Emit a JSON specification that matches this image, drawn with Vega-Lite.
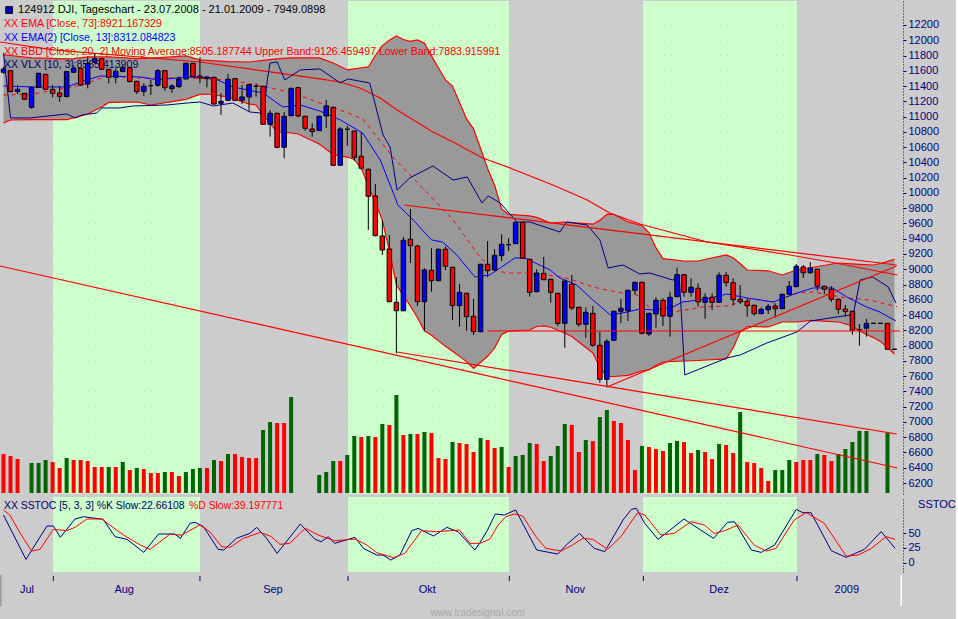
{
"$schema":"https://vega.github.io/schema/vega-lite/v6.json",
"background":"#CCCCCC",
"autosize":{"type":"pad"},
"padding":{"left":0,"top":1,"right":0,"bottom":0},
"spacing":3,
"config":{"view":{"stroke":null},"text":{"font":"Liberation Sans","fontSize":11},"concat":{"spacing":3}},
"datasets":{
"bands":[{"start":7.06,"end":28.01},{"start":49.1,"end":72.05},{"start":91.15,"end":113.1}],
"priceGrid":[
{"start":7.06,"end":28.01,"level":[6200,6400,6600,6800,7000,7200,7400,7600,7800,8000,8200,8400,8600,8800,9000,9200,9400,9600,9800,10000,10200,10400,10600,10800,11000,11200,11400,11600,11800,12000,12200]},
{"start":49.1,"end":72.05,"level":[6200,6400,6600,6800,7000,7200,7400,7600,7800,8000,8200,8400,8600,8800,9000,9200,9400,9600,9800,10000,10200,10400,10600,10800,11000,11200,11400,11600,11800,12000,12200]},
{"start":91.15,"end":113.1,"level":[6200,6400,6600,6800,7000,7200,7400,7600,7800,8000,8200,8400,8600,8800,9000,9200,9400,9600,9800,10000,10200,10400,10600,10800,11000,11200,11400,11600,11800,12000,12200]}],
"stocGrid":[
{"start":7.06,"end":28.01,"level":[0,25,50,75,100]},
{"start":49.1,"end":72.05,"level":[0,25,50,75,100]},
{"start":91.15,"end":113.1,"level":[0,25,50,75,100]}],
"volume":[
{"bar":0,"volume":39,"side":"down"},{"bar":1,"volume":37,"side":"down"},{"bar":2,"volume":34,"side":"down"},{"bar":4,"volume":30,"side":"up"},{"bar":5,"volume":30,"side":"up"},{"bar":6,"volume":33,"side":"up"},{"bar":7,"volume":31,"side":"down"},{"bar":8,"volume":25,"side":"down"},{"bar":9,"volume":35,"side":"up"},{"bar":10,"volume":33,"side":"down"},{"bar":11,"volume":33,"side":"down"},{"bar":12,"volume":32,"side":"down"},{"bar":13,"volume":26,"side":"down"},{"bar":14,"volume":26,"side":"down"},{"bar":15,"volume":26,"side":"up"},{"bar":16,"volume":26,"side":"down"},{"bar":17,"volume":31,"side":"up"},{"bar":18,"volume":23,"side":"down"},{"bar":19,"volume":25,"side":"up"},{"bar":20,"volume":24,"side":"down"},{"bar":21,"volume":20,"side":"down"},{"bar":22,"volume":20,"side":"down"},{"bar":23,"volume":21,"side":"up"},{"bar":24,"volume":21,"side":"down"},{"bar":25,"volume":17,"side":"down"},{"bar":26,"volume":21,"side":"up"},{"bar":27,"volume":24,"side":"up"},{"bar":28,"volume":25,"side":"up"},{"bar":29,"volume":25,"side":"down"},{"bar":30,"volume":33,"side":"up"},{"bar":31,"volume":32,"side":"down"},{"bar":32,"volume":39,"side":"up"},{"bar":33,"volume":39,"side":"down"},{"bar":34,"volume":36,"side":"down"},{"bar":35,"volume":35,"side":"down"},{"bar":36,"volume":35,"side":"down"},{"bar":37,"volume":63,"side":"up"},{"bar":38,"volume":71,"side":"up"},{"bar":39,"volume":70,"side":"down"},{"bar":40,"volume":70,"side":"down"},{"bar":41,"volume":96,"side":"up"},
{"bar":45,"volume":18,"side":"up"},{"bar":46,"volume":21,"side":"up"},{"bar":47,"volume":32,"side":"up"},{"bar":48,"volume":32,"side":"down"},{"bar":49,"volume":38,"side":"up"},{"bar":50,"volume":57,"side":"up"},{"bar":51,"volume":56,"side":"down"},{"bar":52,"volume":57,"side":"up"},{"bar":53,"volume":56,"side":"down"},{"bar":54,"volume":69,"side":"up"},{"bar":55,"volume":68,"side":"down"},{"bar":56,"volume":98,"side":"up"},{"bar":57,"volume":58,"side":"down"},{"bar":58,"volume":59,"side":"up"},{"bar":59,"volume":59,"side":"down"},{"bar":60,"volume":61,"side":"up"},{"bar":61,"volume":60,"side":"down"},{"bar":62,"volume":35,"side":"down"},{"bar":63,"volume":34,"side":"down"},{"bar":64,"volume":51,"side":"up"},{"bar":65,"volume":50,"side":"down"},{"bar":66,"volume":49,"side":"down"},{"bar":67,"volume":41,"side":"down"},{"bar":68,"volume":55,"side":"up"},{"bar":69,"volume":53,"side":"down"},{"bar":70,"volume":45,"side":"down"},{"bar":71,"volume":46,"side":"up"},{"bar":72,"volume":26,"side":"down"},{"bar":73,"volume":37,"side":"up"},{"bar":74,"volume":38,"side":"up"},{"bar":75,"volume":50,"side":"up"},{"bar":76,"volume":49,"side":"down"},{"bar":77,"volume":32,"side":"down"},{"bar":78,"volume":37,"side":"up"},{"bar":79,"volume":47,"side":"up"},{"bar":80,"volume":69,"side":"up"},{"bar":81,"volume":68,"side":"down"},{"bar":82,"volume":41,"side":"down"},{"bar":83,"volume":53,"side":"up"},{"bar":84,"volume":52,"side":"down"},{"bar":85,"volume":76,"side":"up"},{"bar":86,"volume":83,"side":"up"},{"bar":87,"volume":72,"side":"down"},{"bar":88,"volume":70,"side":"down"},{"bar":89,"volume":53,"side":"down"},{"bar":90,"volume":23,"side":"down"},{"bar":91,"volume":47,"side":"up"},{"bar":92,"volume":46,"side":"down"},{"bar":93,"volume":44,"side":"down"},{"bar":94,"volume":42,"side":"down"},{"bar":95,"volume":50,"side":"up"},{"bar":96,"volume":52,"side":"up"},{"bar":97,"volume":51,"side":"down"},{"bar":98,"volume":40,"side":"down"},{"bar":99,"volume":43,"side":"up"},{"bar":100,"volume":41,"side":"down"},{"bar":101,"volume":34,"side":"down"},{"bar":102,"volume":49,"side":"up"},{"bar":103,"volume":48,"side":"down"},{"bar":104,"volume":40,"side":"down"},{"bar":105,"volume":81,"side":"up"},{"bar":106,"volume":31,"side":"down"},{"bar":107,"volume":30,"side":"down"},{"bar":108,"volume":25,"side":"down"},{"bar":109,"volume":12,"side":"down"},{"bar":110,"volume":23,"side":"up"},{"bar":111,"volume":23,"side":"up"},{"bar":112,"volume":33,"side":"up"},{"bar":113,"volume":31,"side":"down"},{"bar":114,"volume":33,"side":"down"},{"bar":115,"volume":33,"side":"down"},{"bar":116,"volume":39,"side":"up"},{"bar":117,"volume":38,"side":"down"},{"bar":118,"volume":32,"side":"down"},{"bar":119,"volume":39,"side":"up"},{"bar":120,"volume":44,"side":"up"},{"bar":121,"volume":51,"side":"up"},{"bar":122,"volume":62,"side":"up"},{"bar":123,"volume":62,"side":"up"},{"bar":126,"volume":60,"side":"up"}],
"boll":[
{"bar":0,"upper":11807,"lower":10916},{"bar":1,"upper":11800,"lower":10955},{"bar":4,"upper":11768,"lower":10961},{"bar":9,"upper":11755,"lower":10961},{"bar":10,"upper":11760,"lower":10982},{"bar":12,"upper":11781,"lower":11034},{"bar":14,"upper":11781,"lower":11126},{"bar":15,"upper":11781,"lower":11185},{"bar":19,"upper":11760,"lower":11191},{"bar":21,"upper":11765,"lower":11152},{"bar":24,"upper":11783,"lower":11195},{"bar":26,"upper":11794,"lower":11225},{"bar":28,"upper":11742,"lower":11290},{"bar":29,"upper":11735,"lower":11296},{"bar":32,"upper":11720,"lower":11257},{"bar":35,"upper":11715,"lower":11165},{"bar":36,"upper":11725,"lower":11152},{"bar":37,"upper":11735,"lower":11021},{"bar":39,"upper":11755,"lower":10798},{"bar":41,"upper":11768,"lower":10785},{"bar":42,"upper":11768,"lower":10772},{"bar":45,"upper":11768,"lower":10641},{"bar":47,"upper":11702,"lower":10505},{"bar":49,"upper":11611,"lower":10470},{"bar":50,"upper":11625,"lower":10440},{"bar":51,"upper":11640,"lower":10320},{"bar":52,"upper":11650,"lower":10100},{"bar":53,"upper":11800,"lower":9870},{"bar":54,"upper":11930,"lower":9640},{"bar":55,"upper":12000,"lower":9236},{"bar":56,"upper":12056,"lower":8800},{"bar":57,"upper":12010,"lower":8650},{"bar":58,"upper":11985,"lower":8520},{"bar":59,"upper":12004,"lower":8365},{"bar":60,"upper":11960,"lower":8195},{"bar":61,"upper":11795,"lower":8135},{"bar":63,"upper":11480,"lower":7990},{"bar":64,"upper":11400,"lower":7925},{"bar":66,"upper":10970,"lower":7790},{"bar":67,"upper":10840,"lower":7700},{"bar":69,"upper":10320,"lower":7860},{"bar":70,"upper":10100,"lower":7970},{"bar":71,"upper":9790,"lower":8145},{"bar":72,"upper":9720,"lower":8190},{"bar":75,"upper":9700,"lower":8204},{"bar":76,"upper":9680,"lower":8250},{"bar":77,"upper":9640,"lower":8257},{"bar":78,"upper":9606,"lower":8240},{"bar":80,"upper":9619,"lower":8165},{"bar":81,"upper":9610,"lower":8120},{"bar":84,"upper":9590,"lower":7903},{"bar":85,"upper":9640,"lower":7720},{"bar":86,"upper":9720,"lower":7595},{"bar":87,"upper":9720,"lower":7595},{"bar":89,"upper":9620,"lower":7610},{"bar":91,"upper":9570,"lower":7670},{"bar":92,"upper":9480,"lower":7680},{"bar":93,"upper":9280,"lower":7740},{"bar":94,"upper":9140,"lower":7785},{"bar":97,"upper":9108,"lower":7798},{"bar":99,"upper":9108,"lower":7805},{"bar":103,"upper":9187,"lower":7825},{"bar":104,"upper":9150,"lower":7969},{"bar":105,"upper":9075,"lower":8178},{"bar":106,"upper":8990,"lower":8250},{"bar":109,"upper":8980,"lower":8244},{"bar":111,"upper":8925,"lower":8309},{"bar":113,"upper":8990,"lower":8309},{"bar":115,"upper":9020,"lower":8330},{"bar":119,"upper":9082,"lower":8309},{"bar":121,"upper":9070,"lower":8257},{"bar":122,"upper":9065,"lower":8190},{"bar":124,"upper":9056,"lower":8105},{"bar":125,"upper":9075,"lower":8055},{"bar":127,"upper":9130,"lower":7890}],
"ma":[{"bar":0,"price":11283},{"bar":4.2,"price":11296},{"bar":9,"price":11375},{"bar":11.2,"price":11414},{"bar":14.8,"price":11532},{"bar":19.5,"price":11506},{"bar":26.2,"price":11506},{"bar":32.3,"price":11480},{"bar":36.1,"price":11414},{"bar":41.3,"price":11309},{"bar":45.1,"price":11178},{"bar":48,"price":11086},{"bar":51.2,"price":10969},{"bar":55.5,"price":10471},{"bar":60.4,"price":10000},{"bar":64.1,"price":9646},{"bar":67.9,"price":9161},{"bar":69.8,"price":8990},{"bar":71.8,"price":8951},{"bar":74.6,"price":8951},{"bar":79.7,"price":8899},{"bar":84.6,"price":8755},{"bar":87.4,"price":8702},{"bar":90.3,"price":8663},{"bar":92.1,"price":8493},{"bar":95.4,"price":8440},{"bar":99.7,"price":8506},{"bar":103.1,"price":8519},{"bar":106.8,"price":8611},{"bar":109.7,"price":8571},{"bar":113.1,"price":8689},{"bar":115.4,"price":8702},{"bar":120.2,"price":8624},{"bar":123.5,"price":8597},{"bar":127.4,"price":8506}],
"ema13":[{"bar":0,"price":11401},{"bar":4.2,"price":11388},{"bar":9,"price":11388},{"bar":11.9,"price":11480},{"bar":13.8,"price":11532},{"bar":19.5,"price":11519},{"bar":21.9,"price":11480},{"bar":26.2,"price":11519},{"bar":29.9,"price":11506},{"bar":32.7,"price":11388},{"bar":37,"price":11309},{"bar":39.8,"price":11126},{"bar":42.3,"price":11152},{"bar":45.1,"price":11073},{"bar":48,"price":10956},{"bar":51.2,"price":10785},{"bar":53.7,"price":10431},{"bar":55.4,"price":10038},{"bar":56.2,"price":9842},{"bar":58.4,"price":9646},{"bar":61,"price":9384},{"bar":62.6,"price":9357},{"bar":64.6,"price":9187},{"bar":67.2,"price":8899},{"bar":69.3,"price":8925},{"bar":72.9,"price":9148},{"bar":74.3,"price":9148},{"bar":77.9,"price":8991},{"bar":79.3,"price":8886},{"bar":81.7,"price":8794},{"bar":84,"price":8598},{"bar":86.5,"price":8401},{"bar":88.9,"price":8440},{"bar":90.7,"price":8480},{"bar":92.6,"price":8467},{"bar":95.4,"price":8506},{"bar":96.8,"price":8571},{"bar":100.3,"price":8611},{"bar":103.1,"price":8676},{"bar":106,"price":8624},{"bar":109.7,"price":8571},{"bar":113.1,"price":8689},{"bar":115.4,"price":8755},{"bar":118.2,"price":8755},{"bar":120.2,"price":8637},{"bar":123,"price":8506},{"bar":124.9,"price":8440},{"bar":127.2,"price":8322}],
"ema73":[{"bar":-0.5,"price":11977},{"bar":7.1,"price":11873},{"bar":28,"price":11715},{"bar":45.1,"price":11493},{"bar":48,"price":11453},{"bar":50.8,"price":11375},{"bar":53.7,"price":11244},{"bar":56.1,"price":11087},{"bar":61.2,"price":10798},{"bar":64.1,"price":10667},{"bar":68.3,"price":10458},{"bar":72.2,"price":10327},{"bar":78.3,"price":10104},{"bar":83.2,"price":9907},{"bar":86.4,"price":9737},{"bar":90.7,"price":9593},{"bar":100.3,"price":9357},{"bar":112.1,"price":9187},{"bar":117.8,"price":9095},{"bar":127.4,"price":8925}],
"vlx":[{"bar":0,"price":11833},{"bar":1,"price":10982},{"bar":3.8,"price":10982},{"bar":9,"price":11034},{"bar":10.2,"price":10982},{"bar":11.2,"price":11021},{"bar":13.3,"price":11047},{"bar":14,"price":11113},{"bar":16.6,"price":11113},{"bar":18.5,"price":11139},{"bar":23.3,"price":11152},{"bar":26.2,"price":11178},{"bar":28,"price":11191},{"bar":29.9,"price":11139},{"bar":32.7,"price":11178},{"bar":35.1,"price":11060},{"bar":36.6,"price":11047},{"bar":37,"price":10955},{"bar":37.6,"price":11480},{"bar":38,"price":11702},{"bar":39,"price":11715},{"bar":40.1,"price":11480},{"bar":42.3,"price":11611},{"bar":45.1,"price":11624},{"bar":48,"price":11440},{"bar":49.1,"price":11493},{"bar":52.2,"price":11440},{"bar":54.1,"price":10759},{"bar":55.1,"price":10602},{"bar":56.1,"price":10038},{"bar":57.9,"price":10196},{"bar":61.2,"price":10353},{"bar":64.1,"price":10169},{"bar":66.1,"price":10209},{"bar":68.2,"price":9868},{"bar":69.1,"price":9960},{"bar":70.8,"price":9868},{"bar":73.2,"price":9619},{"bar":75,"price":9619},{"bar":79.3,"price":9488},{"bar":80.3,"price":9619},{"bar":83.2,"price":9580},{"bar":85,"price":9384},{"bar":86.2,"price":9017},{"bar":88.3,"price":9056},{"bar":90.7,"price":8938},{"bar":92.1,"price":8951},{"bar":95.4,"price":8859},{"bar":96.3,"price":8925},{"bar":96.7,"price":8296},{"bar":97.1,"price":7615},{"bar":103.1,"price":7838},{"bar":105,"price":7877},{"bar":108.8,"price":8034},{"bar":113.1,"price":8178},{"bar":115,"price":8322},{"bar":120.7,"price":8401},{"bar":121.1,"price":8401},{"bar":122.1,"price":8859},{"bar":123.9,"price":8899},{"bar":126.1,"price":8768},{"bar":127.2,"price":8558}],
"trend":[{"line":"a","bar":57.1,"price":9842},{"line":"a","bar":127.3,"price":9056},{"line":"b","bar":86,"price":7458},{"line":"b","bar":127.3,"price":9043},{"line":"c","bar":69,"price":8191},{"line":"c","bar":127.8,"price":8191},{"line":"d","bar":-0.5,"price":9043},{"line":"d","bar":127.4,"price":6397},{"line":"e","bar":56.1,"price":7916},{"line":"e","bar":127.3,"price":6842}],
"candles":[
{"bar":0,"open":11580,"high":11654,"low":11558,"close":11624,"dir":"up"},{"bar":1,"open":11602,"high":11610,"low":11320,"close":11327,"dir":"down"},{"bar":2,"open":11327,"high":11414,"low":11296,"close":11357,"dir":"up"},{"bar":3,"open":11305,"high":11310,"low":11222,"close":11226,"dir":"down"},{"bar":4,"open":11121,"high":11390,"low":11104,"close":11383,"dir":"up"},{"bar":5,"open":11383,"high":11575,"low":11378,"close":11567,"dir":"up"},{"bar":6,"open":11554,"high":11560,"low":11350,"close":11357,"dir":"down"},{"bar":7,"open":11357,"high":11414,"low":11252,"close":11305,"dir":"down"},{"bar":8,"open":11309,"high":11401,"low":11196,"close":11265,"dir":"down"},{"bar":9,"open":11261,"high":11595,"low":11255,"close":11589,"dir":"up"},{"bar":10,"open":11580,"high":11676,"low":11576,"close":11632,"dir":"up"},{"bar":11,"open":11632,"high":11640,"low":11401,"close":11414,"dir":"down"},{"bar":12,"open":11427,"high":11785,"low":11370,"close":11698,"dir":"up"},{"bar":13,"open":11711,"high":11829,"low":11698,"close":11759,"dir":"up"},{"bar":14,"open":11759,"high":11765,"low":11612,"close":11619,"dir":"down"},{"bar":15,"open":11619,"high":11625,"low":11436,"close":11514,"dir":"down"},{"bar":16,"open":11514,"high":11632,"low":11436,"close":11593,"dir":"up"},{"bar":17,"open":11589,"high":11676,"low":11585,"close":11641,"dir":"up"},{"bar":18,"open":11641,"high":11650,"low":11450,"close":11458,"dir":"down"},{"bar":19,"open":11462,"high":11470,"low":11296,"close":11327,"dir":"down"},
{"bar":20,"open":11331,"high":11436,"low":11270,"close":11397,"dir":"up"},{"bar":21,"open":11405,"high":11479,"low":11283,"close":11405,"dir":"up"},{"bar":22,"open":11410,"high":11624,"low":11392,"close":11602,"dir":"up"},{"bar":23,"open":11602,"high":11610,"low":11340,"close":11379,"dir":"down"},{"bar":24,"open":11366,"high":11423,"low":11314,"close":11401,"dir":"up"},{"bar":25,"open":11392,"high":11523,"low":11370,"close":11493,"dir":"up"},{"bar":26,"open":11493,"high":11705,"low":11488,"close":11698,"dir":"up"},{"bar":27,"open":11698,"high":11705,"low":11518,"close":11523,"dir":"down"},{"bar":28,"open":11532,"high":11776,"low":11436,"close":11506,"dir":"down"},{"bar":29,"open":11497,"high":11532,"low":11383,"close":11519,"dir":"up"},{"bar":30,"open":11514,"high":11525,"low":11155,"close":11165,"dir":"down"},{"bar":31,"open":11174,"high":11305,"low":11021,"close":11200,"dir":"up"},{"bar":32,"open":11213,"high":11558,"low":11205,"close":11488,"dir":"up"},{"bar":33,"open":11497,"high":11505,"low":11205,"close":11213,"dir":"down"},{"bar":34,"open":11213,"high":11414,"low":11165,"close":11257,"dir":"up"},{"bar":35,"open":11257,"high":11425,"low":11065,"close":11418,"dir":"up"},{"bar":36,"open":11397,"high":11436,"low":11261,"close":11397,"dir":"up"},{"bar":37,"open":11397,"high":11405,"low":10890,"close":10899,"dir":"down"},{"bar":38,"open":10899,"high":11086,"low":10737,"close":11043,"dir":"up"},{"bar":39,"open":11043,"high":11050,"low":10584,"close":10597,"dir":"down"},
{"bar":40,"open":10597,"high":11060,"low":10453,"close":11004,"dir":"up"},{"bar":41,"open":11012,"high":11378,"low":11005,"close":11370,"dir":"up"},{"bar":42,"open":11379,"high":11385,"low":10990,"close":11008,"dir":"down"},{"bar":43,"open":11004,"high":11010,"low":10816,"close":10846,"dir":"down"},{"bar":44,"open":10838,"high":10912,"low":10737,"close":10803,"dir":"down"},{"bar":45,"open":10816,"high":11010,"low":10810,"close":11004,"dir":"up"},{"bar":46,"open":11008,"high":11217,"low":10851,"close":11139,"dir":"up"},{"bar":47,"open":11122,"high":11130,"low":10355,"close":10362,"dir":"down"},{"bar":48,"open":10362,"high":10860,"low":10355,"close":10838,"dir":"up"},{"bar":49,"open":10834,"high":10877,"low":10619,"close":10834,"dir":"up"},{"bar":50,"open":10811,"high":10820,"low":10422,"close":10467,"dir":"down"},{"bar":51,"open":10480,"high":10789,"low":10300,"close":10323,"dir":"down"},{"bar":52,"open":10310,"high":10318,"low":9514,"close":9956,"dir":"down"},{"bar":53,"open":9960,"high":10117,"low":9432,"close":9440,"dir":"down"},{"bar":54,"open":9436,"high":9636,"low":9187,"close":9252,"dir":"down"},{"bar":55,"open":9266,"high":9449,"low":8570,"close":8575,"dir":"down"},{"bar":56,"open":8567,"high":8895,"low":7899,"close":8457,"dir":"down"},{"bar":57,"open":8457,"high":9423,"low":8450,"close":9380,"dir":"up"},{"bar":58,"open":9393,"high":9790,"low":9082,"close":9309,"dir":"down"},{"bar":59,"open":9305,"high":9318,"low":8519,"close":8575,"dir":"down"},
{"bar":60,"open":8575,"high":9013,"low":8195,"close":8991,"dir":"up"},{"bar":61,"open":8987,"high":9275,"low":8706,"close":8850,"dir":"down"},{"bar":62,"open":8850,"high":9270,"low":8845,"close":9262,"dir":"up"},{"bar":63,"open":9262,"high":9296,"low":8990,"close":9039,"dir":"down"},{"bar":64,"open":9026,"high":9033,"low":8336,"close":8523,"dir":"down"},{"bar":65,"open":8523,"high":8807,"low":8248,"close":8698,"dir":"up"},{"bar":66,"open":8685,"high":8692,"low":8195,"close":8379,"dir":"down"},{"bar":67,"open":8384,"high":8611,"low":8139,"close":8182,"dir":"down"},{"bar":68,"open":8182,"high":9072,"low":8175,"close":9065,"dir":"up"},{"bar":69,"open":9065,"high":9370,"low":8895,"close":8981,"dir":"down"},{"bar":70,"open":8990,"high":9262,"low":8985,"close":9183,"dir":"up"},{"bar":71,"open":9178,"high":9458,"low":9108,"close":9327,"dir":"up"},{"bar":72,"open":9322,"high":9406,"low":9239,"close":9322,"dir":"up"},{"bar":73,"open":9335,"high":9622,"low":9330,"close":9615,"dir":"up"},{"bar":74,"open":9615,"high":9622,"low":9138,"close":9144,"dir":"down"},{"bar":75,"open":9131,"high":9138,"low":8641,"close":8698,"dir":"down"},{"bar":76,"open":8706,"high":9000,"low":8700,"close":8951,"dir":"up"},{"bar":77,"open":8947,"high":9161,"low":8858,"close":8863,"dir":"down"},{"bar":78,"open":8869,"high":8875,"low":8562,"close":8698,"dir":"down"},{"bar":79,"open":8685,"high":8692,"low":8261,"close":8292,"dir":"down"},
{"bar":80,"open":8292,"high":8853,"low":7973,"close":8846,"dir":"up"},{"bar":81,"open":8803,"high":8925,"low":8467,"close":8493,"dir":"down"},{"bar":82,"open":8502,"high":8509,"low":8248,"close":8279,"dir":"down"},{"bar":83,"open":8279,"high":8502,"low":8100,"close":8436,"dir":"up"},{"bar":84,"open":8423,"high":8519,"low":7986,"close":8004,"dir":"down"},{"bar":85,"open":8004,"high":8182,"low":7514,"close":7559,"dir":"down"},{"bar":86,"open":7559,"high":8083,"low":7454,"close":8056,"dir":"up"},{"bar":87,"open":8070,"high":8456,"low":8065,"close":8450,"dir":"up"},{"bar":88,"open":8450,"high":8611,"low":8296,"close":8489,"dir":"up"},{"bar":89,"open":8457,"high":8731,"low":8322,"close":8725,"dir":"up"},{"bar":90,"open":8725,"high":8835,"low":8672,"close":8829,"dir":"up"},{"bar":91,"open":8829,"high":8835,"low":8148,"close":8161,"dir":"down"},{"bar":92,"open":8152,"high":8430,"low":8125,"close":8423,"dir":"up"},{"bar":93,"open":8414,"high":8633,"low":8234,"close":8594,"dir":"up"},{"bar":94,"open":8594,"high":8620,"low":8257,"close":8388,"dir":"down"},{"bar":95,"open":8384,"high":8706,"low":8117,"close":8633,"dir":"up"},{"bar":96,"open":8641,"high":9021,"low":8635,"close":8929,"dir":"up"},{"bar":97,"open":8929,"high":8935,"low":8641,"close":8698,"dir":"down"},{"bar":98,"open":8698,"high":8882,"low":8641,"close":8764,"dir":"up"},{"bar":99,"open":8751,"high":8816,"low":8510,"close":8572,"dir":"down"},
{"bar":100,"open":8567,"high":8685,"low":8352,"close":8633,"dir":"up"},{"bar":101,"open":8633,"high":8685,"low":8466,"close":8567,"dir":"down"},{"bar":102,"open":8567,"high":8960,"low":8560,"close":8921,"dir":"up"},{"bar":103,"open":8921,"high":8964,"low":8772,"close":8824,"dir":"down"},{"bar":104,"open":8824,"high":8882,"low":8528,"close":8601,"dir":"down"},{"bar":105,"open":8607,"high":8794,"low":8545,"close":8575,"dir":"down"},{"bar":106,"open":8580,"high":8615,"low":8379,"close":8523,"dir":"down"},{"bar":107,"open":8528,"high":8535,"low":8392,"close":8418,"dir":"down"},{"bar":108,"open":8418,"high":8502,"low":8412,"close":8476,"dir":"up"},{"bar":109,"open":8470,"high":8545,"low":8414,"close":8515,"dir":"up"},{"bar":110,"open":8519,"high":8554,"low":8370,"close":8484,"dir":"down"},{"bar":111,"open":8484,"high":8680,"low":8478,"close":8672,"dir":"up"},{"bar":112,"open":8672,"high":8846,"low":8665,"close":8777,"dir":"up"},{"bar":113,"open":8772,"high":9069,"low":8765,"close":9039,"dir":"up"},{"bar":114,"open":9030,"high":9056,"low":8886,"close":8955,"dir":"down"},{"bar":115,"open":8955,"high":9095,"low":8938,"close":9017,"dir":"up"},{"bar":116,"open":9000,"high":9007,"low":8719,"close":8777,"dir":"down"},{"bar":117,"open":8777,"high":8785,"low":8676,"close":8738,"dir":"down"},{"bar":118,"open":8738,"high":8781,"low":8571,"close":8607,"dir":"down"},{"bar":119,"open":8607,"high":8615,"low":8414,"close":8476,"dir":"down"},
{"bar":120,"open":8480,"high":8532,"low":8379,"close":8445,"dir":"down"},{"bar":121,"open":8450,"high":8456,"low":8143,"close":8201,"dir":"down"},{"bar":122,"open":8209,"high":8283,"low":7999,"close":8209,"dir":"up"},{"bar":123,"open":8227,"high":8349,"low":8117,"close":8292,"dir":"up"},{"bar":124,"open":8292,"high":8292,"low":8292,"close":8292,"dir":"up"},{"bar":125,"open":8292,"high":8292,"low":8292,"close":8292,"dir":"up"},{"bar":126,"open":8292,"high":8292,"low":7952,"close":7952,"dir":"down"},{"bar":127,"open":7952,"high":7952,"low":7952,"close":7952,"dir":"up"}],
"k":[{"bar":0,"v":80.5},{"bar":3.2,"v":5.4},{"bar":6.2,"v":61.9},{"bar":7.1,"v":61.9},{"bar":8.1,"v":42.7},{"bar":10.2,"v":73.7},{"bar":11.4,"v":77.7},{"bar":14.2,"v":73.2},{"bar":15.9,"v":43.8},{"bar":17.6,"v":39.3},{"bar":20,"v":17.2},{"bar":22.1,"v":48.3},{"bar":24.4,"v":48.3},{"bar":25.2,"v":41},{"bar":26.6,"v":66.4},{"bar":27.3,"v":68.1},{"bar":28.5,"v":60.8},{"bar":30.6,"v":22.3},{"bar":31.4,"v":21.2},{"bar":33.2,"v":41},{"bar":35.1,"v":49.4},{"bar":36.1,"v":59.6},{"bar":37.5,"v":41},{"bar":39,"v":15.6},{"bar":42.3,"v":65.3},{"bar":44.4,"v":39.3},{"bar":45.3,"v":35.3},{"bar":46.3,"v":43.8},{"bar":47.2,"v":32.5},{"bar":50.1,"v":42.7},{"bar":51.3,"v":24},{"bar":53.2,"v":12.7},{"bar":54.1,"v":12.7},{"bar":55.2,"v":4.2},{"bar":56.5,"v":12.7},{"bar":58.2,"v":54},{"bar":59.1,"v":57.9},{"bar":61.3,"v":44.9},{"bar":63.2,"v":59.6},{"bar":64.8,"v":52},{"bar":67.2,"v":21.2},{"bar":67.9,"v":33.6},{"bar":69,"v":55.1},{"bar":70.1,"v":82.2},{"bar":71.4,"v":80.5},{"bar":73,"v":89},{"bar":76,"v":21.2},{"bar":79,"v":14.4},{"bar":80.2,"v":29.7},{"bar":82.1,"v":49.4},{"bar":84.2,"v":24},{"bar":85.7,"v":18.4},{"bar":88.3,"v":72},{"bar":89.5,"v":90.1},{"bar":90.2,"v":91.8},{"bar":91.4,"v":66.4},{"bar":93.3,"v":39.3},{"bar":97,"v":73.7},{"bar":99,"v":57.9},{"bar":101.2,"v":41},{"bar":103.2,"v":68.1},{"bar":104.2,"v":69.2},{"bar":106.6,"v":21.2},{"bar":108,"v":17.2},{"bar":109.9,"v":29.7},{"bar":113,"v":90.1},{"bar":113.9,"v":84.5},{"bar":115.1,"v":84.5},{"bar":118,"v":20},{"bar":120.1,"v":8.8},{"bar":122.7,"v":22.3},{"bar":125.1,"v":52.3},{"bar":127.1,"v":24}],
"d":[{"bar":0,"v":89},{"bar":0.9,"v":80.5},{"bar":2.4,"v":49.4},{"bar":4,"v":19.5},{"bar":5.2,"v":22.3},{"bar":7.1,"v":56.2},{"bar":9,"v":54},{"bar":10.2,"v":59.6},{"bar":11.9,"v":73.7},{"bar":14,"v":73.7},{"bar":17.1,"v":46.6},{"bar":19.5,"v":29.7},{"bar":20.9,"v":22.3},{"bar":23.7,"v":47.8},{"bar":25.4,"v":46.6},{"bar":28,"v":63.6},{"bar":29.4,"v":52.3},{"bar":31.1,"v":26.9},{"bar":32.3,"v":25.7},{"bar":34.2,"v":41},{"bar":36.6,"v":51.1},{"bar":38.2,"v":43.8},{"bar":39.4,"v":30.8},{"bar":40.8,"v":32.5},{"bar":43,"v":57.9},{"bar":45.1,"v":45.5},{"bar":47.2,"v":37},{"bar":50.1,"v":39.8},{"bar":51.8,"v":29.7},{"bar":53.2,"v":16.7},{"bar":55.6,"v":8.2},{"bar":57.2,"v":15.6},{"bar":59.6,"v":54},{"bar":61.7,"v":52.3},{"bar":65,"v":55.1},{"bar":66.5,"v":32.5},{"bar":67.9,"v":32.5},{"bar":69.3,"v":39.3},{"bar":70.5,"v":63.6},{"bar":71.6,"v":77.7},{"bar":72.8,"v":82.2},{"bar":74,"v":78.8},{"bar":75.9,"v":43.8},{"bar":77.3,"v":24},{"bar":79.5,"v":19.5},{"bar":81.1,"v":29.7},{"bar":82.6,"v":41},{"bar":84,"v":39.3},{"bar":86.1,"v":22.3},{"bar":88,"v":43.8},{"bar":90.4,"v":84.5},{"bar":91.4,"v":80.5},{"bar":93.7,"v":46.6},{"bar":95.6,"v":49.4},{"bar":98,"v":69.2},{"bar":99.9,"v":63.6},{"bar":101.3,"v":49.4},{"bar":102.8,"v":54},{"bar":104.7,"v":63.6},{"bar":107,"v":29.7},{"bar":108.7,"v":19.5},{"bar":110.1,"v":24},{"bar":112.7,"v":72},{"bar":114.4,"v":84.5},{"bar":117,"v":66.4},{"bar":120.1,"v":11},{"bar":121.8,"v":12.7},{"bar":123.7,"v":24},{"bar":125.8,"v":43.8},{"bar":127.1,"v":39.3}]
},
"vconcat":[
{"width":903,"height":493,
 "resolve":{"scale":{"y":"independent","color":"independent"},"axis":{"y":"independent"}},
 "encoding":{"x":{"field":"bar","type":"quantitative","scale":{"domain":[-0.4989,128.21],"padding":0},"axis":null}},
 "layer":[
  {"data":{"name":"bands"},"mark":{"type":"rect","color":"#CCFFCC"},"encoding":{"x":{"field":"start","type":"quantitative","scale":{"domain":[-0.4989,128.21],"padding":0},"axis":null},"x2":{"field":"end"}}},
  {"data":{"name":"priceGrid"},"transform":[{"flatten":["level"]}],"mark":{"type":"rule","color":"#DDC8DD","strokeWidth":1,"strokeDash":[1,6]},"encoding":{"x":{"field":"start","type":"quantitative","scale":{"domain":[-0.4989,128.21],"padding":0},"axis":null},"x2":{"field":"end"},"y":{"field":"level","type":"quantitative","scale":{"domain":[6056,12514]},"axis":{"orient":"right","title":null,"grid":false,"values":[6200,6400,6600,6800,7000,7200,7400,7600,7800,8000,8200,8400,8600,8800,9000,9200,9400,9600,9800,10000,10200,10400,10600,10800,11000,11200,11400,11600,11800,12000,12200],"format":"d","labelOverlap":false,"labelColor":"#000080","labelFont":"Liberation Sans","labelFontSize":11,"labelPadding":2,"tickColor":"#000080","tickSize":3,"domainColor":"#000080","domainDash":[1,2]}}}},
  {"data":{"name":"volume"},"mark":{"type":"bar","orient":"vertical","size":4},"encoding":{"y":{"field":"volume","type":"quantitative","scale":{"domain":[-1,492]},"axis":null},"color":{"field":"side","type":"nominal","scale":{"domain":["up","down"],"range":["#006400","#FF0000"]},"legend":null}}},
  {"layer":[
   {"data":{"name":"boll"},"mark":{"type":"area","color":"#999999","opacity":1},"encoding":{"y":{"field":"upper","type":"quantitative","scale":{"domain":[6056,12514]},"axis":null},"y2":{"field":"lower"}}},
   {"data":{"name":"boll"},"mark":{"type":"line","color":"#FF0000","strokeWidth":1.2,"clip":true},"encoding":{"y":{"field":"upper","type":"quantitative","scale":{"domain":[6056,12514]},"axis":null}}},
   {"data":{"name":"boll"},"mark":{"type":"line","color":"#FF0000","strokeWidth":1.2,"clip":true},"encoding":{"y":{"field":"lower","type":"quantitative","scale":{"domain":[6056,12514]},"axis":null}}},
   {"data":{"values":[{"bar":2.07,"price":12396,"label":"124912  DJI, Tageschart - 23.07.2008 - 21.01.2009 - 7949.0898"}]},"mark":{"type":"text","align":"left","baseline":"middle","color":"#000000"},"encoding":{"y":{"field":"price","type":"quantitative","scale":{"domain":[6056,12514]},"axis":null},"text":{"field":"label"}}},
   {"data":{"values":[{"bar":0.8,"price":12396}]},"mark":{"type":"square","size":45,"color":"#0000CC","stroke":"#000000","strokeWidth":1,"opacity":1,"filled":true},"encoding":{"y":{"field":"price","type":"quantitative","scale":{"domain":[6056,12514]},"axis":null}}},
   {"data":{"values":[{"bar":0.07,"price":12213,"label":"XX EMA [Close, 73]:8921.167329"},{"bar":0.07,"price":11846,"label":"XX BBD [Close, 20, 2] Moving Average:8505.187744 Upper Band:9126.459497 Lower Band:7883.915991"}]},"mark":{"type":"text","align":"left","baseline":"middle","color":"#FF0000","fontSize":10.6},"encoding":{"y":{"field":"price","type":"quantitative","scale":{"domain":[6056,12514]},"axis":null},"text":{"field":"label"}}},
   {"data":{"values":[{"bar":0.07,"price":12030,"label":"XX EMA(2) [Close, 13]:8312.084823"}]},"mark":{"type":"text","align":"left","baseline":"middle","color":"#0000FF","fontSize":10.6},"encoding":{"y":{"field":"price","type":"quantitative","scale":{"domain":[6056,12514]},"axis":null},"text":{"field":"label"}}},
   {"data":{"values":[{"bar":0.07,"price":11676,"label":"XX VLX [10, 3]:8565.413909"}]},"mark":{"type":"text","align":"left","baseline":"middle","color":"#000060","fontSize":10.6},"encoding":{"y":{"field":"price","type":"quantitative","scale":{"domain":[6056,12514]},"axis":null},"text":{"field":"label"}}},
   {"data":{"name":"ma"},"mark":{"type":"line","color":"#FF0000","strokeWidth":1,"strokeDash":[4,4],"clip":true},"encoding":{"y":{"field":"price","type":"quantitative","scale":{"domain":[6056,12514]},"axis":null}}},
   {"data":{"name":"ema13"},"mark":{"type":"line","color":"#0000FF","strokeWidth":1,"clip":true},"encoding":{"y":{"field":"price","type":"quantitative","scale":{"domain":[6056,12514]},"axis":null}}},
   {"data":{"name":"ema73"},"mark":{"type":"line","color":"#FF0000","strokeWidth":1.2,"clip":true},"encoding":{"y":{"field":"price","type":"quantitative","scale":{"domain":[6056,12514]},"axis":null}}},
   {"data":{"name":"vlx"},"mark":{"type":"line","color":"#000080","strokeWidth":1,"clip":true},"encoding":{"y":{"field":"price","type":"quantitative","scale":{"domain":[6056,12514]},"axis":null}}},
   {"data":{"name":"candles"},"mark":{"type":"rule","color":"#000000","strokeWidth":1,"clip":true},"encoding":{"y":{"field":"low","type":"quantitative","scale":{"domain":[6056,12514]},"axis":null},"y2":{"field":"high"}}},
   {"data":{"name":"candles"},"mark":{"type":"bar","orient":"vertical","size":4.5,"stroke":"#000000","strokeWidth":1,"clip":true},"encoding":{"y":{"field":"open","type":"quantitative","scale":{"domain":[6056,12514]},"axis":null},"y2":{"field":"close"},"color":{"field":"dir","type":"nominal","scale":{"domain":["up","down"],"range":["#0000FF","#FF0000"]},"legend":null}}},
   {"data":{"name":"trend"},"mark":{"type":"line","color":"#FF0000","strokeWidth":1.2,"clip":true},"encoding":{"detail":{"field":"line"},"y":{"field":"price","type":"quantitative","scale":{"domain":[6056,12514]},"axis":null}}}
  ]}
 ]
},
{"width":903,"height":75,
 "resolve":{"scale":{"y":"independent"},"axis":{"y":"independent"}},
 "encoding":{"x":{"field":"bar","type":"quantitative","scale":{"domain":[-0.4989,128.21]},"axis":null}},
 "layer":[
  {"data":{"name":"bands"},"mark":{"type":"rect","color":"#CCFFCC"},"encoding":{"x":{"field":"start","type":"quantitative","scale":{"domain":[-0.4989,128.21]},"axis":null},"x2":{"field":"end"}}},
  {"data":{"name":"stocGrid"},"transform":[{"flatten":["level"]}],"mark":{"type":"rule","color":"#DDC8DD","strokeWidth":1,"strokeDash":[1,6]},"encoding":{"x":{"field":"start","type":"quantitative","scale":{"domain":[-0.4989,128.21]},"axis":null},"x2":{"field":"end"},"y":{"field":"level","type":"quantitative","scale":{"domain":[-16,111]},"axis":{"orient":"right","title":null,"grid":false,"values":[0,25,50],"labelOverlap":false,"labelColor":"#000080","labelFont":"Liberation Sans","labelFontSize":11,"labelPadding":2,"tickColor":"#000080","tickSize":3,"domainColor":"#000080","domainDash":[1,2]}}}},
  {"data":{"values":[{"level":79},{"level":21}]},"mark":{"type":"rule","color":"#000080","strokeWidth":1.5,"clip":true},"encoding":{"x":{"datum":-0.4989,"type":"quantitative","scale":{"domain":[-0.4989,128.21]},"axis":null},"x2":{"datum":127.9},"y":{"field":"level","type":"quantitative","scale":{"domain":[-16,111]},"axis":null}}},
  {"data":{"name":"k"},"mark":{"type":"line","color":"#000080","strokeWidth":1,"clip":true},"encoding":{"y":{"field":"v","type":"quantitative","scale":{"domain":[-16,111]},"axis":null}}},
  {"data":{"name":"d"},"mark":{"type":"line","color":"#FF0000","strokeWidth":1,"clip":true},"encoding":{"y":{"field":"v","type":"quantitative","scale":{"domain":[-16,111]},"axis":null}}},
  {"data":{"values":[{"bar":0.07,"v":96,"label":"XX SSTOC [5, 3, 3] %K Slow:22.66108"}]},"mark":{"type":"text","align":"left","baseline":"middle","color":"#000060","fontSize":10.4},"encoding":{"y":{"field":"v","type":"quantitative","scale":{"domain":[-16,111]},"axis":null},"text":{"field":"label"}}},
  {"data":{"values":[{"bar":26.44,"v":96,"label":"%D Slow:39.197771"}]},"mark":{"type":"text","align":"left","baseline":"middle","color":"#FF0000","fontSize":10.4},"encoding":{"y":{"field":"v","type":"quantitative","scale":{"domain":[-16,111]},"axis":null},"text":{"field":"label"}}},
  {"data":{"values":[{"bar":133.05,"v":97.5,"label":"SSTOC"}]},"mark":{"type":"text","align":"center","baseline":"middle","color":"#000080"},"encoding":{"y":{"field":"v","type":"quantitative","scale":{"domain":[-16,111]},"axis":null},"text":{"field":"label"}}},
  {"data":{"values":[{"level":110,"tone":"line"}]},"mark":{"type":"rule","color":"#999999","strokeWidth":1.5},"encoding":{"x":{"datum":128.2,"type":"quantitative","scale":{"domain":[-0.4989,128.21]},"axis":null},"x2":{"datum":135.9},"y":{"field":"level","type":"quantitative","scale":{"domain":[-16,111]},"axis":null}}},
  {"data":{"values":[{"level":85,"tone":"line"}]},"mark":{"type":"rule","color":"#FFFFFF","strokeWidth":1.5},"encoding":{"x":{"datum":128.2,"type":"quantitative","scale":{"domain":[-0.4989,128.21]},"axis":null},"x2":{"datum":135.9},"y":{"field":"level","type":"quantitative","scale":{"domain":[-16,111]},"axis":null}}}
 ]
},
{"width":903,"height":44,
 "encoding":{"x":{"field":"bar","type":"quantitative","scale":{"domain":[-0.4989,128.21]},"axis":null}},
 "layer":[
  {"data":{"values":[{"level":44}]},"mark":{"type":"rule","color":"#999999","strokeWidth":2,"clip":true},"encoding":{"x":{"datum":-0.4989,"type":"quantitative","scale":{"domain":[-0.4989,128.21]},"axis":null},"x2":{"datum":127.9},"y":{"field":"level","type":"quantitative","scale":{"domain":[0,44]},"axis":null}}},
  {"data":{"values":[{"level":13}]},"mark":{"type":"rule","color":"#FFFFFF","strokeWidth":2,"clip":true},"encoding":{"x":{"datum":-0.4989,"type":"quantitative","scale":{"domain":[-0.4989,128.21]},"axis":null},"x2":{"datum":127.9},"y":{"field":"level","type":"quantitative","scale":{"domain":[0,44]},"axis":null}}},
  {"data":{"values":[{"bar":-0.38,"top":44,"bottom":13}]},"mark":{"type":"rule","color":"#999999","strokeWidth":1.5,"clip":true},"encoding":{"y":{"field":"top","type":"quantitative","scale":{"domain":[0,44]},"axis":null},"y2":{"field":"bottom"}}},
  {"data":{"values":[{"bar":127.95,"top":44,"bottom":13}]},"mark":{"type":"rule","color":"#FFFFFF","strokeWidth":1.5,"clip":true},"encoding":{"y":{"field":"top","type":"quantitative","scale":{"domain":[0,44]},"axis":null},"y2":{"field":"bottom"}}},
  {"data":{"values":[{"bar":7.1,"top":43,"bottom":38},{"bar":28,"top":43,"bottom":38},{"bar":49.1,"top":43,"bottom":38},{"bar":72.1,"top":43,"bottom":38},{"bar":91.2,"top":43,"bottom":38},{"bar":113.1,"top":43,"bottom":38}]},"mark":{"type":"rule","color":"#000080","strokeWidth":1},"encoding":{"y":{"field":"top","type":"quantitative","scale":{"domain":[0,44]},"axis":null},"y2":{"field":"bottom"}}},
  {"data":{"values":[{"bar":3.35,"level":29,"label":"Jul"},{"bar":17.2,"level":29,"label":"Aug"},{"bar":38.4,"level":29,"label":"Sep"},{"bar":60.4,"level":29,"label":"Okt"},{"bar":81.5,"level":29,"label":"Nov"},{"bar":102,"level":29,"label":"Dez"},{"bar":120.2,"level":29,"label":"2009"}]},"mark":{"type":"text","align":"center","baseline":"middle","color":"#000080"},"encoding":{"y":{"field":"level","type":"quantitative","scale":{"domain":[0,44]},"axis":null},"text":{"field":"label"}}},
  {"data":{"values":[{"bar":67.6,"level":6,"label":"www.tradesignal.com"}]},"mark":{"type":"text","align":"center","baseline":"middle","color":"#AAAAAA","fontSize":10},"encoding":{"y":{"field":"level","type":"quantitative","scale":{"domain":[0,44]},"axis":null},"text":{"field":"label"}}}
 ]
}
]
}
